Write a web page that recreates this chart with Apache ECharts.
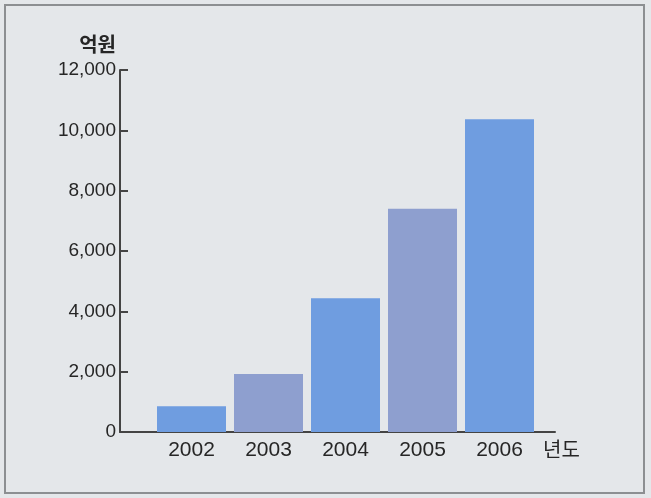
<!DOCTYPE html>
<html>
<head>
<meta charset="utf-8">
<script src="https://cdn.jsdelivr.net/npm/echarts@6/dist/echarts.min.js"></script>
<style>
html,body{margin:0;padding:0;background:#e4e7ea;}
#c{width:651px;height:498px;}
</style>
</head>
<body>
<div id="c"></div>
<script>
const categories = ['2002', '2003', '2004', '2005', '2006'];
const values = [850, 1920, 4430, 7400, 10370];
const barColors = ['#6f9de0', '#8e9fcf', '#6f9de0', '#8e9fcf', '#6f9de0'];
const yTicks = [0, 2000, 4000, 6000, 8000, 10000, 12000];
const yName = '억원';
const xName = '년도';

const FONT = '"Liberation Sans", Arial, sans-serif';
const TXT = '#262626';
const chart = echarts.init(document.getElementById('c'));
chart.setOption({
  backgroundColor: '#e4e7ea',
  animation: false,
  graphic: [{
    type: 'rect', shape: {x: 5, y: 5, width: 639, height: 488},
    style: {fill: 'none', stroke: '#8c8f92', lineWidth: 2}, silent: true
  }],
  grid: [
    {left: 120, right: 96, top: 70, bottom: 66},
    {left: 153, width: 385, top: 70, bottom: 66}
  ],
  xAxis: [
    {
      gridIndex: 0, type: 'value', min: 0, max: 1,
      axisLine: {show: true, lineStyle: {color: '#444', width: 2}},
      axisTick: {show: false}, axisLabel: {show: false}, splitLine: {show: false},
      name: xName, nameLocation: 'end', nameGap: -12,
      nameTextStyle: {fontFamily: '"Noto Sans CJK KR", sans-serif', fontSize: 20, color: TXT, verticalAlign: 'top', padding: [7, 0, 0, 0]}
    },
    {
      gridIndex: 1, type: 'category', data: categories,
      axisLine: {show: false}, axisTick: {show: false},
      axisLabel: {fontFamily: FONT, fontSize: 21, color: TXT, margin: 8}
    }
  ],
  yAxis: [
    {
      gridIndex: 0, type: 'value', min: yTicks[0], max: yTicks[yTicks.length - 1], interval: 2000,
      axisLine: {show: true, lineStyle: {color: '#444', width: 2}},
      axisTick: {show: true, inside: true, length: 8, lineStyle: {color: '#444', width: 2}},
      splitLine: {show: false},
      axisLabel: {fontFamily: FONT, fontSize: 19, color: TXT, margin: 4,
        formatter: v => v.toLocaleString('en-US')},
      name: yName, nameLocation: 'end', nameGap: 16,
      nameTextStyle: {fontFamily: '"Noto Sans CJK KR", sans-serif', fontSize: 20, fontWeight: 'bold', color: TXT, align: 'right', padding: [0, 4, 0, 0]}
    },
    {
      gridIndex: 1, type: 'value', min: yTicks[0], max: yTicks[yTicks.length - 1], show: false
    }
  ],
  series: [{
    type: 'bar', xAxisIndex: 1, yAxisIndex: 1,
    data: values.map((v, i) => ({value: v, itemStyle: {color: barColors[i]}})),
    barWidth: 69
  }]
});
</script>
</body>
</html>
